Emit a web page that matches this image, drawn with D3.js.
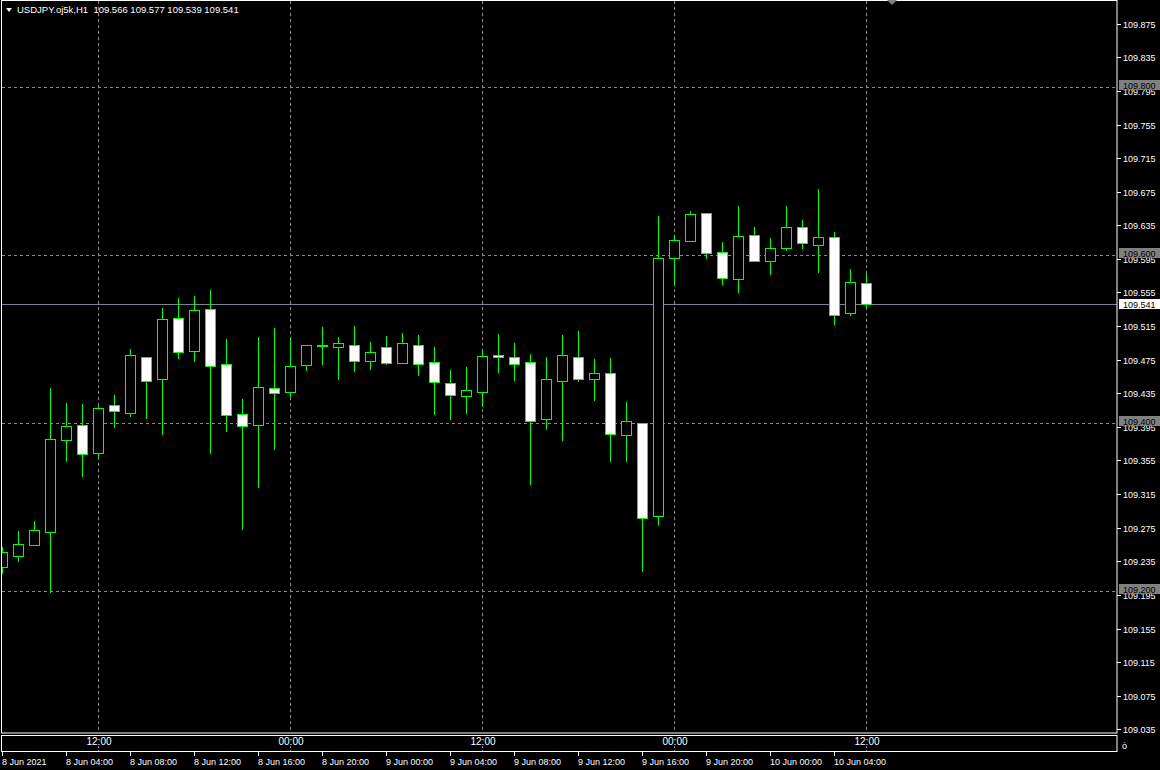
<!DOCTYPE html>
<html>
<head>
<meta charset="utf-8">
<script src="https://cdn.jsdelivr.net/npm/d3@7"></script>
<style>
  html, body { margin: 0; padding: 0; background: #000; }
  svg { display: block; }
  text { font-family: "Liberation Sans", Arial, sans-serif; }
</style>
</head>
<body>
<svg id="chart"></svg>
<script>
/* USDJPY H1 - chart bougies facon MT4 */

// bougies (index 0 = 8 Jun 2021 00:00, une par heure)
var open  = [109.228,109.241,109.255,109.270,109.380,109.397,109.364,109.421,109.412,109.478,
             109.452,109.525,109.485,109.535,109.470,109.410,109.397,109.441,109.436,109.469,
             109.493,109.490,109.493,109.474,109.490,109.471,109.493,109.472,109.447,109.432,
             109.437,109.480,109.478,109.472,109.404,109.450,109.478,109.452,109.459,109.385,
             109.400,109.289,109.596,109.616,109.650,109.603,109.571,109.623,109.592,109.608,
             109.633,109.612,109.621,109.530,109.566];
var high  = [109.252,109.271,109.283,109.441,109.423,109.422,109.421,109.433,109.488,109.478,
             109.537,109.548,109.551,109.558,109.500,109.428,109.502,109.513,109.502,109.493,
             109.514,109.502,109.515,109.496,109.503,109.507,109.504,109.490,109.463,109.466,
             109.486,109.506,109.495,109.482,109.478,109.504,109.509,109.476,109.477,109.425,
             109.400,109.646,109.624,109.652,109.650,109.615,109.658,109.633,109.620,109.658,
             109.641,109.678,109.627,109.583,109.577];
var low   = [109.221,109.235,109.254,109.198,109.354,109.337,109.360,109.395,109.408,109.405,
             109.387,109.477,109.473,109.364,109.390,109.273,109.324,109.369,109.432,109.463,
             109.470,109.452,109.462,109.464,109.470,109.471,109.457,109.410,109.404,109.411,
             109.420,109.460,109.451,109.327,109.393,109.379,109.450,109.427,109.354,109.354,
             109.224,109.278,109.564,109.616,109.596,109.565,109.556,109.592,109.577,109.606,
             109.608,109.579,109.517,109.528,109.539];
var close = [109.246,109.256,109.272,109.381,109.396,109.363,109.418,109.414,109.481,109.450,
             109.523,109.484,109.534,109.468,109.409,109.396,109.443,109.435,109.468,109.493,
             109.491,109.495,109.473,109.484,109.471,109.495,109.470,109.448,109.433,109.439,
             109.479,109.478,109.470,109.402,109.452,109.480,109.452,109.459,109.386,109.402,
             109.287,109.596,109.617,109.648,109.602,109.572,109.622,109.592,109.608,109.633,
             109.614,109.621,109.528,109.567,109.541];

// axe des prix
var priceTicks = [109.875,109.835,109.795,109.755,109.715,109.675,109.635,109.595,109.555,109.515,
                  109.475,109.435,109.395,109.355,109.315,109.275,109.235,109.195,109.155,109.115,
                  109.075,109.035];
var gridLevels = [109.800, 109.600, 109.400, 109.200];
var lastPrice = 109.541;

// axe du temps
var timeTickBars = [0,4,8,12,16,20,24,28,32,36,40,44,48,52];
var timeLabels = ["8 Jun 2021","8 Jun 04:00","8 Jun 08:00","8 Jun 12:00","8 Jun 16:00","8 Jun 20:00",
                  "9 Jun 00:00","9 Jun 04:00","9 Jun 08:00","9 Jun 12:00","9 Jun 16:00","9 Jun 20:00",
                  "10 Jun 00:00","10 Jun 04:00"];
var gridBars = [6, 18, 30, 42, 54];
var gridLabels = ["12:00","00:00","12:00","00:00","12:00"];

var title = "USDJPY.oj5k,H1  109.566 109.577 109.539 109.541";

var W = 1160, H = 770;
var plotRight = 1117, plotBottom = 733;

var svg = d3.select("#chart").attr("width", W).attr("height", H);
svg.append("rect").attr("width", W).attr("height", H).attr("fill", "#000");

var bars = open.map((o, i) => ({i: i, o: o, h: high[i], l: low[i], c: close[i]}));

var x = d3.scaleLinear().domain([0, 54]).range([2, 866]);
var y = d3.scaleLinear().domain([109.2, 109.8]).range([590.7, 86.7]);
var py = v => Math.round(y(v));

svg.append("clipPath").attr("id", "plot")
  .append("rect").attr("x", 2).attr("y", 1).attr("width", plotRight - 2).attr("height", plotBottom - 1);

var plot = svg.append("g").attr("clip-path", "url(#plot)");

// grille
plot.selectAll(".hgrid").data(gridLevels).enter().append("line")
  .attr("x1", 2).attr("x2", plotRight)
  .attr("y1", d => py(d) + 0.5).attr("y2", d => py(d) + 0.5)
  .attr("stroke", "#8a8a8a").attr("stroke-dasharray", "3,3");
plot.selectAll(".vgrid").data(gridBars).enter().append("line")
  .attr("x1", d => x(d) + 0.5).attr("x2", d => x(d) + 0.5)
  .attr("y1", 1).attr("y2", plotBottom)
  .attr("stroke", "#8a8a8a").attr("stroke-dasharray", "3,3");

// ligne du dernier prix
plot.append("line")
  .attr("x1", 2).attr("x2", plotRight)
  .attr("y1", py(lastPrice) + 0.5).attr("y2", py(lastPrice) + 0.5)
  .attr("stroke", "#778899");

// meches
plot.selectAll(".wick").data(bars).enter().append("line")
  .attr("x1", d => x(d.i) + 0.5).attr("x2", d => x(d.i) + 0.5)
  .attr("y1", d => py(d.h)).attr("y2", d => py(d.l) + 1)
  .attr("stroke", "#00ff00");

// corps
plot.selectAll(".body").data(bars).enter().append("rect")
  .attr("x", d => x(d.i) - 5 + 0.5)
  .attr("width", 10)
  .attr("y", d => py(Math.max(d.o, d.c)) + 0.5)
  .attr("height", d => Math.max(1, py(Math.min(d.o, d.c)) - py(Math.max(d.o, d.c))))
  .attr("fill", d => d.c >= d.o ? "#000" : "#fff")
  .attr("stroke", "#00ff00");

// cadre principal
svg.append("rect").attr("x", 1.5).attr("y", 0.5)
  .attr("width", plotRight - 1.5).attr("height", plotBottom - 0.5)
  .attr("fill", "none").attr("stroke", "#fff");

// sous-fenetre
svg.append("rect").attr("x", 1.5).attr("y", 735.5)
  .attr("width", plotRight - 1.5).attr("height", 16)
  .attr("fill", "none").attr("stroke", "#fff");
svg.selectAll(".subTick").data(gridBars).enter().append("line")
  .attr("x1", d => x(d) + 0.5).attr("x2", d => x(d) + 0.5)
  .attr("y1", 746).attr("y2", 751)
  .attr("stroke", "#8a8a8a").attr("stroke-dasharray", "2,2");
svg.selectAll(".subLabel").data(gridBars).enter().append("text")
  .attr("x", d => x(d) + 1).attr("y", 744.5)
  .attr("text-anchor", "middle").attr("font-size", 10).attr("fill", "#fff")
  .text((d, k) => gridLabels[k]);
svg.append("text").attr("x", 1122).attr("y", 749)
  .attr("font-size", 9).attr("fill", "#fff").text("ȯ");

// axe des prix
var right = svg.append("g");
right.selectAll(".ptick").data(priceTicks).enter().append("line")
  .attr("x1", plotRight).attr("x2", plotRight + 4)
  .attr("y1", d => py(d) + 0.5).attr("y2", d => py(d) + 0.5)
  .attr("stroke", "#fff");
right.selectAll(".plabel").data(priceTicks).enter().append("text")
  .attr("x", 1123).attr("y", d => py(d) + 3.5)
  .attr("font-size", 9).attr("fill", "#fff")
  .text(d => d.toFixed(3));

right.selectAll(".gbox").data(gridLevels).enter().append("rect")
  .attr("x", 1119).attr("y", d => py(d) - 7).attr("width", 41).attr("height", 10)
  .attr("fill", "#808080");
right.selectAll(".glabel").data(gridLevels).enter().append("text")
  .attr("x", 1123).attr("y", d => py(d) + 1.5)
  .attr("font-size", 9).attr("fill", "#000")
  .text(d => d.toFixed(3));

right.append("rect")
  .attr("x", 1119).attr("y", py(lastPrice) - 5).attr("width", 41).attr("height", 10)
  .attr("fill", "#fff");
right.append("text")
  .attr("x", 1123).attr("y", py(lastPrice) + 3.5)
  .attr("font-size", 9).attr("fill", "#000")
  .text(lastPrice.toFixed(3));

// axe du temps
svg.selectAll(".ttick").data(timeTickBars).enter().append("line")
  .attr("x1", d => x(d) + 0.5).attr("x2", d => x(d) + 0.5)
  .attr("y1", 752).attr("y2", 756)
  .attr("stroke", "#fff");
svg.selectAll(".tlabel").data(timeTickBars).enter().append("text")
  .attr("x", d => x(d)).attr("y", 765)
  .attr("font-size", 9).attr("fill", "#fff")
  .text((d, k) => timeLabels[k]);

// titre
svg.append("path").attr("d", "M6,8 L12,8 L9,12 Z").attr("fill", "#fff");
svg.append("text").attr("x", 17).attr("y", 13)
  .attr("font-size", 9.5).attr("fill", "#fff")
  .attr("xml:space", "preserve").style("white-space", "pre")
  .text(title);

// marqueur de decalage
svg.append("path").attr("d", "M887,0 L897,0 L892,5 Z").attr("fill", "#808080");
</script>
</body>
</html>
